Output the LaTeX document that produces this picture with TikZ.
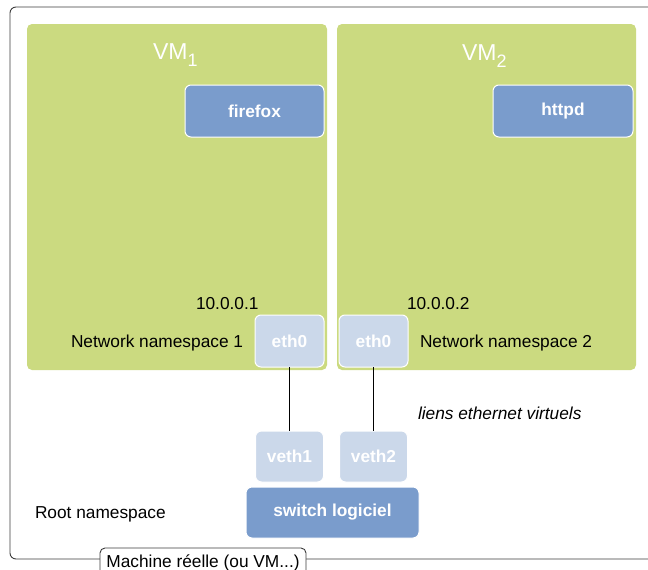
\documentclass[tikz,border=0pt]{standalone}
\usepackage{fontspec}
\setmainfont{Liberation Sans}
\definecolor{vmgreen}{RGB}{203,218,128}
\definecolor{appblue}{RGB}{122,156,204}
\definecolor{ifblue}{RGB}{203,216,234}
\definecolor{framegray}{RGB}{60,60,60}
\begin{document}
\begin{tikzpicture}[x=1pt,y=-1pt,
  every node/.style={inner sep=0pt, outer sep=0pt},
  txt/.style={font=\fontsize{17.3}{20}\selectfont, text=black},
  vmbox/.style={fill=vmgreen, rounded corners=5pt},
  vmlabel/.style={font=\fontsize{23}{26}\selectfont, text=white},
  appbox/.style={fill=appblue, draw=white, line width=1pt, rounded corners=6pt,
    font=\fontsize{17.3}{20}\selectfont\bfseries, text=white},
  ifbox/.style={fill=ifblue, draw=white, line width=1pt, rounded corners=6pt,
    font=\fontsize{17.3}{20}\selectfont\bfseries, text=white},
  link/.style={draw=black, line width=1.7pt},
  frame/.style={draw=framegray, line width=0.9pt, rounded corners=6pt},
  tag/.style={draw=framegray, fill=white, line width=0.9pt, rounded corners=5pt,
    font=\fontsize{17.3}{20}\selectfont, text=black}
]
\clip (0,0) rectangle (648,570);
\draw[frame] (10,7) rectangle (690,559);

\node[vmbox, minimum width=300, minimum height=346] (vm1) at (177,197) {};
\node[vmbox, minimum width=299, minimum height=346] (vm2) at (486.5,197) {};

\node[vmlabel, anchor=base west] (vm1l) at (153,59) {VM\raisebox{-7pt}{\fontsize{18}{18}\selectfont 1}};
\node[vmlabel, anchor=base west] (vm2l) at (462,60) {VM\raisebox{-7pt}{\fontsize{18}{18}\selectfont 2}};

\node[appbox, minimum width=139, minimum height=52] (firefox) at (254.5,111) {firefox};
\node[appbox, minimum width=140, minimum height=52] (httpd) at (563,111) {httpd};

\node[txt, anchor=base west] (ip1) at (196,309) {10.0.0.1};
\node[txt, anchor=base west] (ip2) at (407,309) {10.0.0.2};
\node[txt, anchor=base west] (ns1) at (71,347) {Network namespace 1};
\node[txt, anchor=base west] (ns2) at (420,347) {Network namespace 2};

\node[ifbox, minimum width=69, minimum height=52] (eth1) at (289.5,341) {eth0};
\node[ifbox, minimum width=69, minimum height=52] (eth2) at (373.5,341) {eth0};

\node[ifbox, minimum width=68, minimum height=51] (veth1) at (289.5,456.5) {veth1};
\node[ifbox, minimum width=68, minimum height=51] (veth2) at (373.5,456.5) {veth2};

\node[appbox, minimum width=173, minimum height=51] (switch) at (332.5,512.5) {switch logiciel};

\draw[link] (eth1.south) -- (veth1.north);
\draw[link] (eth2.south) -- (veth2.north);

\node[txt, anchor=base west, font=\fontsize{17.3}{20}\selectfont\itshape] (liens) at (418,419) {liens ethernet virtuels};
\node[txt, anchor=base west] (root) at (35,518) {Root namespace};

\node[tag, minimum width=206, minimum height=30] (machine) at (203,563) {Machine réelle (ou VM...)};
\end{tikzpicture}
\end{document}
